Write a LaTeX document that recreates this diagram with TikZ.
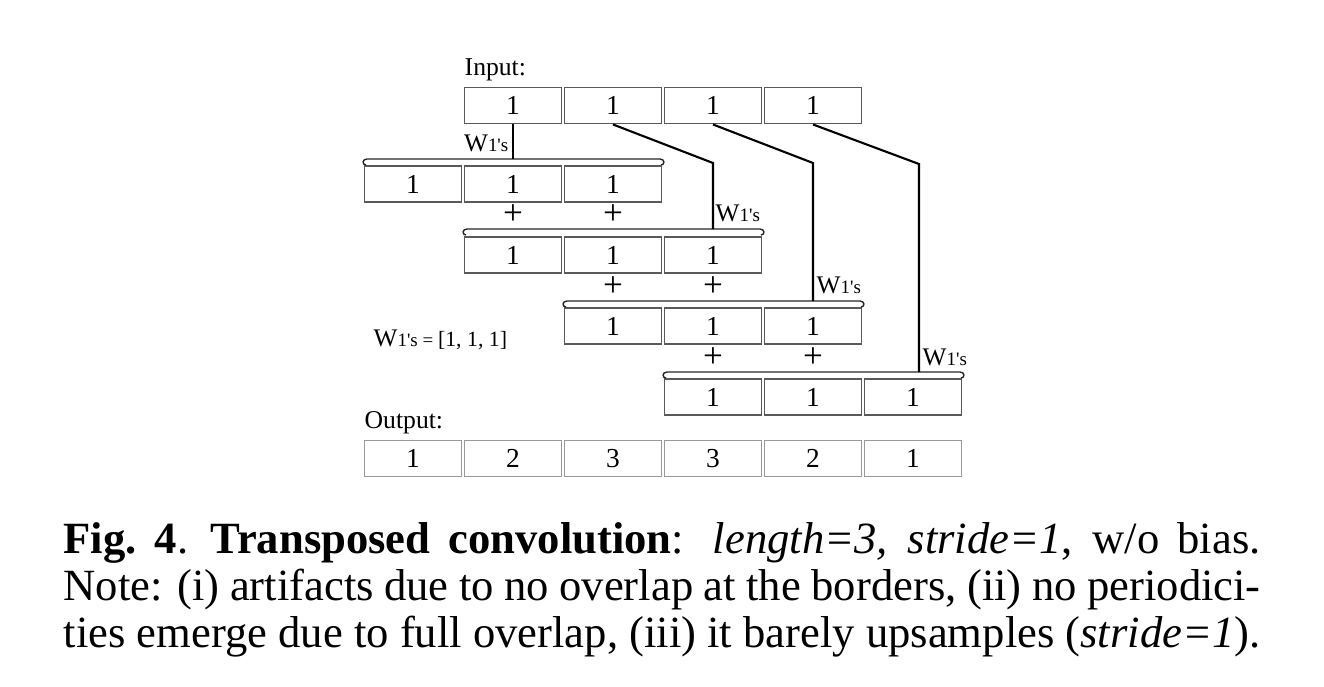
\documentclass[tikz,border=0pt]{standalone}
\usepackage{fontspec}
\setmainfont{Liberation Serif}
\usetikzlibrary{calc, positioning}

\begin{document}
\begin{tikzpicture}[
    x=0.1mm, y=-0.1mm,
    cell/.style={draw=black!65, line width=0.55pt, minimum width=9.7mm, minimum height=3.6mm, inner sep=0pt, font=\fontsize{7.8}{8}\selectfont},
    outcell/.style={cell, draw=black!40},
    lbl/.style={inner sep=0pt, font=\fontsize{7.3}{8}\selectfont},
    plus/.style={inner sep=0pt, font=\fontsize{10}{10}\selectfont},
    wlbl/.style={inner sep=0pt, font=\fontsize{7.2}{8}\selectfont},
    wire/.style={semithick},
    hook/.style={thin, black!85}
]
\useasboundingbox (0,0) rectangle (1324,686);

% input row
\node[lbl, anchor=base west] (inlbl) at (464,75) {Input:};
\foreach \i in {0,...,3}
    \node[cell] (in\i) at (513+100*\i,105.5) {1};

% kernel copies, shifted by one cell each
\foreach \r in {1,...,4}
    \foreach \k in {0,1,2}
        \node[cell] (k\r\k) at (313+100*\r+100*\k,113+71*\r) {1};

% braces over the kernel copies
\foreach \r/\yb in {1/159,2/229,3/301,4/372} {
    \coordinate (bl\r) at (263+100*\r,\yb);
    \coordinate (br\r) at (564+100*\r,\yb);
    \draw[hook] ($(bl\r)+(3,6)$) .. controls ($(bl\r)+(-1,6)$) and ($(bl\r)+(-1,0)$) .. ($(bl\r)+(4,0)$)
        -- ($(br\r)+(-4,0)$) .. controls ($(br\r)+(1,0)$) and ($(br\r)+(1,6)$) .. ($(br\r)+(-3,6)$);
}

% plus signs between the copies
\foreach \r/\yp in {1/215,2/287,3/358}
    \foreach \k in {1,2}
        \node[plus] (p\r\k) at (313+100*\r+100*\k,\yp) {+};

% wires from the inputs to the braces
\coordinate (kink2) at (713,163);
\coordinate (kink3) at (813,163);
\coordinate (kink4) at (919,164);
\coordinate (hit1) at (in0.south |- bl1);
\coordinate (hit2) at (kink2 |- bl2);
\coordinate (hit3) at (kink3 |- bl3);
\coordinate (hit4) at (kink4 |- bl4);
\draw[wire] (in0.south) -- (hit1);
\draw[wire] (in1.south) -- (kink2) -- (hit2);
\draw[wire] (in2.south) -- (kink3) -- (hit3);
\draw[wire] (in3.south) -- (kink4) -- (hit4);

% weight labels
\node[wlbl, anchor=base east] (w1) at (509,151) {W{\fontsize{5.4}{6}\selectfont1\textquotesingle s}};
\node[wlbl, anchor=base west] (w2) at (715,221) {W{\fontsize{5.4}{6}\selectfont1\textquotesingle s}};
\node[wlbl, anchor=base west] (w3) at (816,293) {W{\fontsize{5.4}{6}\selectfont1\textquotesingle s}};
\node[wlbl, anchor=base west] (w4) at (922,365) {W{\fontsize{5.4}{6}\selectfont1\textquotesingle s}};
\node[wlbl, anchor=base west] (wdef) at (373,346) {W{\fontsize{5.4}{6}\selectfont1\textquotesingle s = }{\fontsize{6.2}{7}\selectfont[1, 1, 1]}};

% output row
\node[lbl, anchor=base west] (outlbl) at (364,428) {Output:};
\foreach \v [count=\i from 0] in {1,2,3,3,2,1}
    \node[outcell] (out\i) at (413+100*\i,458.5) {\v};

% caption
\node[anchor=north west, inner sep=0pt, text width=119.7mm, align=justify,
      font=\fontsize{12.7}{13.4}\selectfont] (cap) at (63,522)
    {\textbf{Fig.~4}.\enspace \textbf{Transposed convolution}: \textit{length=3, stride=1}, w/o bias.\linebreak
     Note: (i) artifacts due to no overlap at the borders, (ii) no periodici-\linebreak
     ties emerge due to full overlap, (iii) it barely upsamples (\textit{stride=1}).};
\end{tikzpicture}
\end{document}
